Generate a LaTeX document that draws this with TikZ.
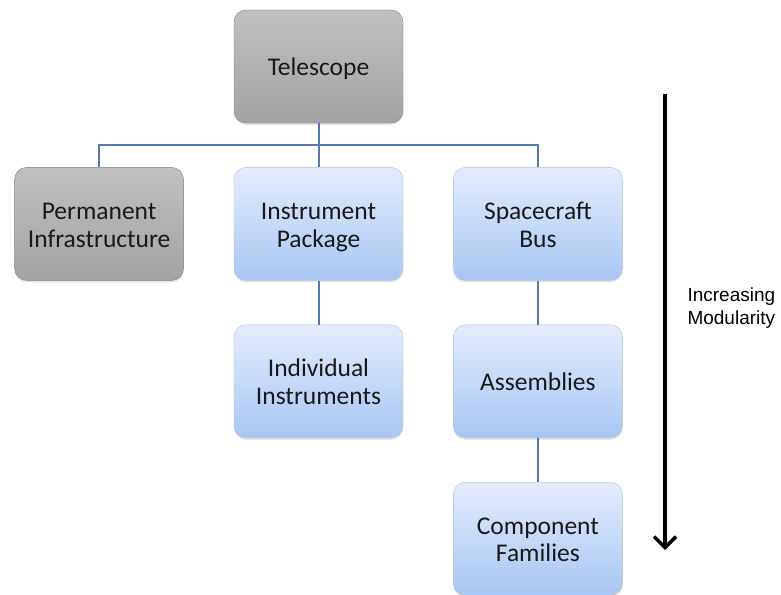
\documentclass[tikz,border=0pt]{standalone}
\usepackage{fontspec}
\setmainfont{Carlito}
\newfontfamily\labelfont{Liberation Sans}
\usetikzlibrary{positioning,shadows,arrows.meta}

\definecolor{linkblue}{RGB}{84,122,176}
\definecolor{bluetop}{RGB}{228,236,251}
\definecolor{bluebot}{RGB}{168,198,244}
\definecolor{blueedge}{RGB}{176,192,216}
\definecolor{greytop}{RGB}{192,192,192}
\definecolor{greybot}{RGB}{163,163,163}
\definecolor{greyedge}{RGB}{128,128,128}

\begin{document}
\begin{tikzpicture}[
		x=1pt,y=1pt,
		node distance=44pt and 50pt,
		box/.style={rounded corners=12pt,minimum width=169pt,minimum height=113pt,
			text width=160pt,align=center,text=black!90,font=\fontsize{25.5}{27.5}\selectfont,
			execute at begin node=\rule{0pt}{27pt},execute at end node=\strut,
			drop shadow={opacity=0.2,shadow xshift=0pt,shadow yshift=-2pt}},
		greybox/.style={box,draw=greyedge,top color=greytop,bottom color=greybot},
		bluebox/.style={box,draw=blueedge,top color=bluetop,bottom color=bluebot},
		link/.style={draw=linkblue,line width=2pt}
		]
		\useasboundingbox (0,0) rectangle (781,-594);
		\node[greybox] (telescope) at (318.5,-66.5) {Telescope};
		\node[greybox,below left=of telescope] (permanent) {Permanent\\Infrastructure};
		\node[bluebox,below=of telescope] (instrument) {Instrument\\Package};
		\node[bluebox,below right=of telescope] (spacecraft) {Spacecraft\\Bus};
		\node[bluebox,below=of instrument] (individual) {Individual\\Instruments};
		\node[bluebox,below=of spacecraft] (assemblies) {Assemblies};
		\node[bluebox,below=of assemblies] (component) {Component\\Families};
		\coordinate[below=22pt of telescope.south] (fork);
		\path[link]
		(telescope.south) -- (instrument.north)
		(permanent.north) |- (fork) -| (spacecraft.north)
		(instrument.south) -- (individual.north)
		(spacecraft.south) -- (assemblies.north)
		(assemblies.south) -- (component.north);
		\coordinate (modtop) at (665,-94);
		\coordinate (modbot) at (665,-550);
		\draw[line width=3.5pt,-{Straight Barb[length=11pt,width=22pt]}] (modtop) -- (modbot);
		\node[anchor=west,align=left,font=\labelfont\fontsize{19}{23}\selectfont] (modularity) at (684,-308) {Increasing\\Modularity};
	\end{tikzpicture}
\end{document}
